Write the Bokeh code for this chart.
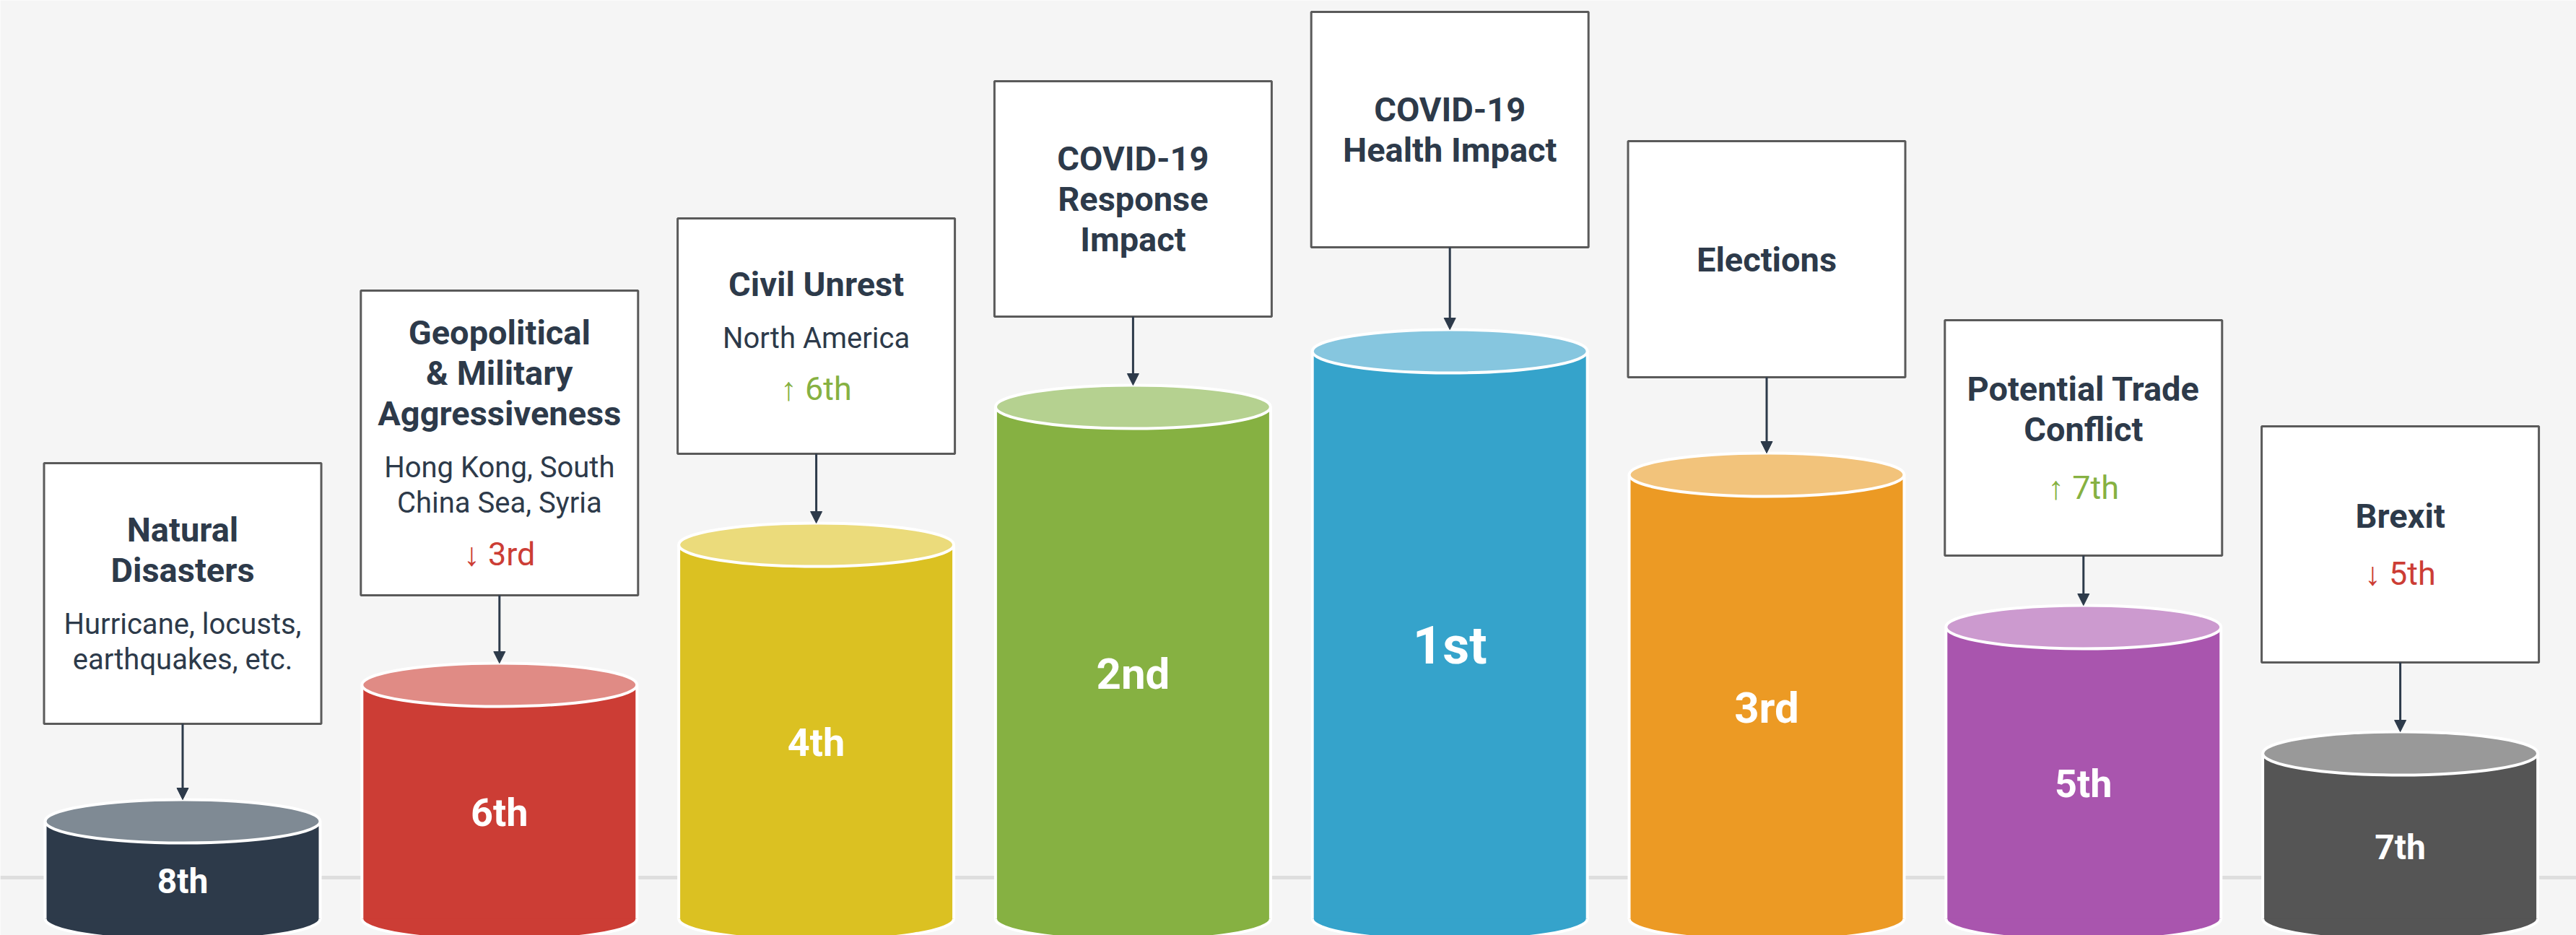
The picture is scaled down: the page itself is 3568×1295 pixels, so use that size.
from bokeh.plotting import figure
from bokeh.models import ColumnDataSource, Range1d, Span, Arrow, NormalHead
from bokeh.core.properties import value
from bokeh.embed import file_html
from bokeh.resources import INLINE

# ---------------- data ----------------
categories = ["Natural Disasters", "Geopolitical & Military Aggressiveness", "Civil Unrest",
              "COVID-19 Response Impact", "COVID-19 Health Impact", "Elections",
              "Potential Trade Conflict", "Brexit"]
ranks = ["8th", "6th", "4th", "2nd", "1st", "3rd", "5th", "7th"]
heights = [135, 324, 518, 709, 786, 615, 404, 229]
title_lines = [["Natural", "Disasters"], ["Geopolitical", "& Military", "Aggressiveness"],
               ["Civil Unrest"], ["COVID-19", "Response", "Impact"], ["COVID-19", "Health Impact"],
               ["Elections"], ["Potential Trade", "Conflict"], ["Brexit"]]
detail_lines = [["Hurricane, locusts,", "earthquakes, etc."], ["Hong Kong, South", "China Sea, Syria"],
                ["North America"], [], [], [], [], []]
prior_rank = [None, "3rd", "6th", None, None, None, "7th", "5th"]
direction = [None, "down", "up", None, None, None, "up", "down"]

# ---------------- styles / layout ----------------
body_colors = ["#2d3a4a", "#cc3d35", "#dbc122", "#86b142", "#35a3cb", "#ec9a24", "#a955ae", "#555555"]
top_colors = ["#7f8a94", "#e08b85", "#ebdb7b", "#b5d190", "#86c6df", "#f2c37b", "#cc9acf", "#999999"]
rank_label_px = [48, 54, 54, 60, 72, 60, 54, 48]
box_gap = [105, 94, 96, 95, 114, 105, 69, 96]
box_height = [361, 422, 326, 326, 326, 327, 326, 327]
NAVY = "#2d3a4a"
UP = "#86b142"
DOWN = "#cc3d35"
FONT = "Roboto"

W, H = 3568, 1295
STEP = 438.8
X0 = 252.5
BASE = 1272
RY = 30
cyl_w = 381 / STEP
box_w = 384 / STEP

p = figure(width=W, height=H, output_backend="svg", toolbar_location=None,
           x_range=Range1d(-X0 / STEP, (W - X0) / STEP),
           y_range=Range1d(-(H - BASE), BASE),
           x_axis_type=None, y_axis_type=None, min_border=0,
           background_fill_color="#f5f5f5", border_fill_color="#f5f5f5")
p.outline_line_color = None
p.grid.visible = False

p.add_layout(Span(location=57, dimension="width", line_color="#dedede", line_width=5, level="underlay"))

n = len(categories)
xs = list(range(n))
cyl = ColumnDataSource(dict(
    x=xs, h=heights, zero=[0] * n,
    left=[x - cyl_w / 2 for x in xs], right=[x + cyl_w / 2 for x in xs],
    body=body_colors, top=top_colors,
))

# bottom ellipse
p.ellipse(x="x", y="zero", width=cyl_w, height=2 * RY, source=cyl,
          fill_color="body", line_color="white", line_width=4)
# body
p.quad(left="left", right="right", bottom="zero", top="h", source=cyl,
       fill_color="body", line_color=None)
# side outlines
p.segment(x0="left", y0="zero", x1="left", y1="h", source=cyl, line_color="white", line_width=4)
p.segment(x0="right", y0="zero", x1="right", y1="h", source=cyl, line_color="white", line_width=4)
# top ellipse
p.ellipse(x="x", y="h", width=cyl_w, height=2 * RY, source=cyl,
          fill_color="top", line_color="white", line_width=4)

# rank labels inside cylinders (vertically centred between top rim and bottom of base)
lab = ColumnDataSource(dict(
    x=xs,
    y=[(h - RY) / 2 for h in heights],
    t=ranks, fs=[f"{fs}px" for fs in rank_label_px],
))
p.text(x="x", y="y", text="t", source=lab, text_font=value(FONT), text_font_style="bold",
       text_font_size="fs", text_color="white", text_align="center", text_baseline="middle")

# boxes
box_bottom = [h + RY + g for h, g in zip(heights, box_gap)]
box_top = [b + bh for b, bh in zip(box_bottom, box_height)]
boxes = ColumnDataSource(dict(
    left=[x - box_w / 2 for x in xs], right=[x + box_w / 2 for x in xs],
    bottom=box_bottom, top=box_top,
))
p.quad(left="left", right="right", bottom="bottom", top="top", source=boxes,
       fill_color="white", line_color="#5a5a5a", line_width=3)

# arrows from boxes to cylinders
arr = ColumnDataSource(dict(x=xs, y0=box_bottom, y1=[h + RY for h in heights]))
p.add_layout(Arrow(end=NormalHead(size=16, fill_color=NAVY, line_color=NAVY, line_width=1),
                   x_start="x", y_start="y0", x_end="x", y_end="y1", source=arr,
                   line_color=NAVY, line_width=3))

# box texts (positions are cap-height centres of each line)
TITLE_PX, DETAIL_PX, CHANGE_PX = 47, 40, 45
G_TT, G_TD, G_DD, G_DC, G_TC = 56, 73, 49, 72, 80
CAP = 0.711 * TITLE_PX
tx, ty, tt, tfs, tst, tcol = [], [], [], [], [], []
for i in range(n):
    lines = []  # (text, px, style, color, gap between baselines)
    for k, t in enumerate(title_lines[i]):
        lines.append((t, TITLE_PX, "bold", NAVY, 0 if k == 0 else G_TT))
    for k, t in enumerate(detail_lines[i]):
        lines.append((t, DETAIL_PX, "normal", NAVY, G_TD if k == 0 else G_DD))
    if prior_rank[i]:
        arrow = "\u2191" if direction[i] == "up" else "\u2193"
        gap = G_DC if detail_lines[i] else G_TC
        lines.append((f"{arrow} {prior_rank[i]}", CHANGE_PX, "normal",
                      UP if direction[i] == "up" else DOWN, gap))
    total = CAP + sum(l[4] for l in lines)
    center = (box_bottom[i] + box_top[i]) / 2
    yb = center + total / 2 - CAP
    for t, px, st, col, gap in lines:
        yb -= gap
        tx.append(i); ty.append(yb + 0.711 * px / 2); tt.append(t)
        tfs.append(f"{px}px"); tst.append(st); tcol.append(col)

txt = ColumnDataSource(dict(x=tx, y=ty, t=tt, fs=tfs, st=tst, c=tcol))
p.text(x="x", y="y", text="t", source=txt, text_font=value(FONT), text_font_style="st",
       text_font_size="fs", text_color="c", text_align="center", text_baseline="middle")

open("out.html", "w").write(file_html(p, INLINE))
